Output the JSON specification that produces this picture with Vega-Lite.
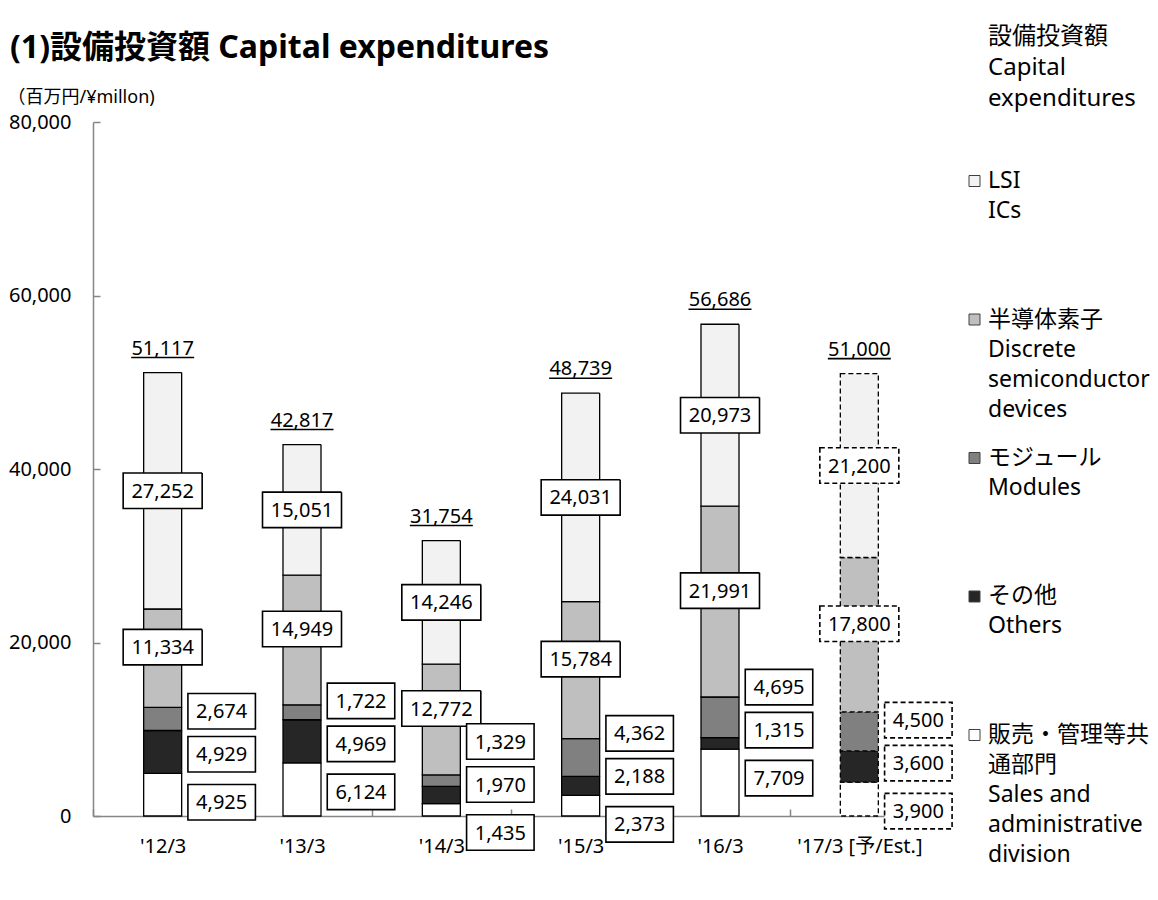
{
  "$schema": "https://vega.github.io/schema/vega-lite/v6.json",
  "autosize": {"type": "pad"},
  "padding": {"left": 7, "top": 25, "right": 0, "bottom": 20},
  "background": "white",
  "bounds": "flush",
  "spacing": 35.5,
  "config": {"font": "Noto Sans, Noto Sans CJK JP", "view": {"stroke": null}, "axisY": {"labelExpr": "format(datum.value, ',')"}},
  "datasets": {
    "capex": [
      {"year": "'12/3", "series": "sales", "amount": 4925},
      {"year": "'12/3", "series": "others", "amount": 4929},
      {"year": "'12/3", "series": "modules", "amount": 2674},
      {"year": "'12/3", "series": "discrete", "amount": 11334},
      {"year": "'12/3", "series": "lsi", "amount": 27252},
      {"year": "'13/3", "series": "sales", "amount": 6124},
      {"year": "'13/3", "series": "others", "amount": 4969},
      {"year": "'13/3", "series": "modules", "amount": 1722},
      {"year": "'13/3", "series": "discrete", "amount": 14949},
      {"year": "'13/3", "series": "lsi", "amount": 15051},
      {"year": "'14/3", "series": "sales", "amount": 1435},
      {"year": "'14/3", "series": "others", "amount": 1970},
      {"year": "'14/3", "series": "modules", "amount": 1329},
      {"year": "'14/3", "series": "discrete", "amount": 12772},
      {"year": "'14/3", "series": "lsi", "amount": 14246},
      {"year": "'15/3", "series": "sales", "amount": 2373},
      {"year": "'15/3", "series": "others", "amount": 2188},
      {"year": "'15/3", "series": "modules", "amount": 4362},
      {"year": "'15/3", "series": "discrete", "amount": 15784},
      {"year": "'15/3", "series": "lsi", "amount": 24031},
      {"year": "'16/3", "series": "sales", "amount": 7709},
      {"year": "'16/3", "series": "others", "amount": 1315},
      {"year": "'16/3", "series": "modules", "amount": 4695},
      {"year": "'16/3", "series": "discrete", "amount": 21991},
      {"year": "'16/3", "series": "lsi", "amount": 20973},
      {"year": "'17/3 [予/Est.]", "series": "sales", "amount": 3900},
      {"year": "'17/3 [予/Est.]", "series": "others", "amount": 3600},
      {"year": "'17/3 [予/Est.]", "series": "modules", "amount": 4500},
      {"year": "'17/3 [予/Est.]", "series": "discrete", "amount": 17800},
      {"year": "'17/3 [予/Est.]", "series": "lsi", "amount": 21200}
    ],
    "totals": [
      {"year": "'12/3", "total": 51117},
      {"year": "'13/3", "total": 42817},
      {"year": "'14/3", "total": 31754},
      {"year": "'15/3", "total": 48739},
      {"year": "'16/3", "total": 56686},
      {"year": "'17/3 [予/Est.]", "total": 51000}
    ],
    "legend": [
      {"series": "lsi", "label": "LSI\nICs"},
      {"series": "discrete", "label": "半導体素子\nDiscrete\nsemiconductor\ndevices"},
      {"series": "modules", "label": "モジュール\nModules"},
      {"series": "others", "label": "その他\nOthers"},
      {"series": "sales", "label": "販売・管理等共\n通部門\nSales and\nadministrative\ndivision"}
    ]
  },
  "resolve": {"scale": {"x": "independent", "y": "independent"}},
  "hconcat": [
    {
      "width": 836,
      "height": 694,
      "title": {"text": "(1)設備投資額 Capital expenditures", "anchor": "start", "frame": "group", "fontSize": 32, "fontWeight": "bold", "color": "black", "dx": -83, "offset": 23},
      "encoding": {
        "x": {
          "field": "year", "type": "nominal", "sort": null,
          "scale": {"paddingInner": 0, "paddingOuter": 0},
          "axis": {"title": null, "labelAngle": 0, "labelFontSize": 20, "labelColor": "black", "domainColor": "#868686", "domainWidth": 1.5, "tickColor": "#868686", "tickWidth": 1.5, "tickSize": -7, "tickBand": "extent", "labelPadding": 27.5}
        }
      },
      "layer": [
        {
          "data": {"name": "capex"},
          "transform": [
            {"stack": "amount", "groupby": ["year"], "as": ["y0", "y1"]},
            {"joinaggregate": [{"op": "min", "field": "y1", "as": "base"}], "groupby": ["year"]}
          ],
          "layer": [
            {
              "mark": {"type": "bar", "width": 38, "stroke": "black", "strokeWidth": 1.3},
              "encoding": {
                "y": {"field": "y1", "type": "quantitative", "scale": {"domain": [0, 80000], "nice": false},
                  "axis": {"title": "（百万円/¥millon)", "titleAngle": 0, "titleAlign": "left", "titleBaseline": "middle", "titleX": -86, "titleY": -25, "titleFontSize": 18, "titleFontWeight": "normal", "titleColor": "black", "values": [0, 20000, 40000, 60000, 80000], "format": ",", "labelExpr": "format(datum.value, ',')", "labelFontSize": 20, "labelColor": "black", "domainColor": "#868686", "domainWidth": 1.5, "tickColor": "#868686", "tickWidth": 1.5, "tickSize": -7, "labelPadding": 29, "grid": false}},
                "y2": {"field": "y0"},
                "fill": {"field": "series", "type": "nominal", "scale": {"domain": ["lsi", "discrete", "modules", "others", "sales"], "range": ["#f2f2f2", "#bfbfbf", "#808080", "#262626", "#ffffff"]}, "legend": null},
                "strokeDash": {"condition": {"test": "indexof(datum.year, '17/3') >= 0", "value": [5, 3]}, "value": [1, 0]}
              }
            },
            {
              "transform": [
                {"filter": {"field": "series", "oneOf": ["lsi", "discrete"]}},
                {"fold": ["y0", "y1"], "as": ["edge", "pos"]},
                {"aggregate": [{"op": "mean", "field": "pos", "as": "mid"}], "groupby": ["year", "series", "amount"]}
              ],
              "layer": [
                {
                  "transform": [{"filter": "datum.series === 'lsi'"}],
                  "mark": {"type": "point", "shape": "M-1,-0.449H1V0.449H-1Z", "size": 6241, "filled": true, "fill": "white", "stroke": "black", "strokeWidth": 1.6, "opacity": 1},
                  "encoding": {
                    "y": {"field": "mid", "type": "quantitative", "scale": {"domain": [0, 80000], "nice": false}},
                    "strokeDash": {"condition": {"test": "indexof(datum.year, '17/3') >= 0", "value": [5, 3]}, "value": [1, 0]}
                  }
                },
                {
                  "transform": [{"filter": "datum.series === 'lsi'"}],
                  "mark": {"type": "text", "fontSize": 20, "align": "center", "baseline": "middle", "color": "black", "yOffset": 1},
                  "encoding": {
                    "y": {"field": "mid", "type": "quantitative", "scale": {"domain": [0, 80000], "nice": false}},
                    "text": {"field": "amount", "type": "quantitative", "format": ","}
                  }
                },
                {
                  "transform": [{"filter": "datum.series === 'discrete'"}],
                  "mark": {"type": "point", "shape": "M-1,-0.449H1V0.449H-1Z", "size": 6241, "filled": true, "fill": "white", "stroke": "black", "strokeWidth": 1.6, "opacity": 1, "yOffset": -11},
                  "encoding": {
                    "y": {"field": "mid", "type": "quantitative", "scale": {"domain": [0, 80000], "nice": false}},
                    "strokeDash": {"condition": {"test": "indexof(datum.year, '17/3') >= 0", "value": [5, 3]}, "value": [1, 0]}
                  }
                },
                {
                  "transform": [{"filter": "datum.series === 'discrete'"}],
                  "mark": {"type": "text", "fontSize": 20, "align": "center", "baseline": "middle", "color": "black", "yOffset": -10},
                  "encoding": {
                    "y": {"field": "mid", "type": "quantitative", "scale": {"domain": [0, 80000], "nice": false}},
                    "text": {"field": "amount", "type": "quantitative", "format": ","}
                  }
                }
              ]
            },
            {
              "transform": [{"filter": "datum.series === 'modules'"}],
              "layer": [
                {
                  "mark": {"type": "point", "shape": "M-1,-0.526H1V0.526H-1Z", "size": 4556, "filled": true, "fill": "white", "stroke": "black", "strokeWidth": 1.6, "opacity": 1, "xOffset": 59, "yOffset": -62},
                  "encoding": {
                    "y": {"field": "base", "type": "quantitative", "scale": {"domain": [0, 80000], "nice": false}},
                    "strokeDash": {"condition": {"test": "indexof(datum.year, '17/3') >= 0", "value": [5, 3]}, "value": [1, 0]}
                  }
                },
                {
                  "mark": {"type": "text", "fontSize": 20, "align": "center", "baseline": "middle", "color": "black", "xOffset": 59, "yOffset": -61},
                  "encoding": {
                    "y": {"field": "base", "type": "quantitative", "scale": {"domain": [0, 80000], "nice": false}},
                    "text": {"field": "amount", "type": "quantitative", "format": ","}
                  }
                }
              ]
            },
            {
              "transform": [{"filter": "datum.series === 'others'"}],
              "layer": [
                {
                  "mark": {"type": "point", "shape": "M-1,-0.526H1V0.526H-1Z", "size": 4556, "filled": true, "fill": "white", "stroke": "black", "strokeWidth": 1.6, "opacity": 1, "xOffset": 59, "yOffset": -19},
                  "encoding": {
                    "y": {"field": "base", "type": "quantitative", "scale": {"domain": [0, 80000], "nice": false}},
                    "strokeDash": {"condition": {"test": "indexof(datum.year, '17/3') >= 0", "value": [5, 3]}, "value": [1, 0]}
                  }
                },
                {
                  "mark": {"type": "text", "fontSize": 20, "align": "center", "baseline": "middle", "color": "black", "xOffset": 59, "yOffset": -18},
                  "encoding": {
                    "y": {"field": "base", "type": "quantitative", "scale": {"domain": [0, 80000], "nice": false}},
                    "text": {"field": "amount", "type": "quantitative", "format": ","}
                  }
                }
              ]
            },
            {
              "transform": [{"filter": "datum.series === 'sales'"}],
              "layer": [
                {
                  "mark": {"type": "point", "shape": "M-1,-0.526H1V0.526H-1Z", "size": 4556, "filled": true, "fill": "white", "stroke": "black", "strokeWidth": 1.6, "opacity": 1, "xOffset": 59, "yOffset": 29},
                  "encoding": {
                    "y": {"field": "base", "type": "quantitative", "scale": {"domain": [0, 80000], "nice": false}},
                    "strokeDash": {"condition": {"test": "indexof(datum.year, '17/3') >= 0", "value": [5, 3]}, "value": [1, 0]}
                  }
                },
                {
                  "mark": {"type": "text", "fontSize": 20, "align": "center", "baseline": "middle", "color": "black", "xOffset": 59, "yOffset": 30},
                  "encoding": {
                    "y": {"field": "base", "type": "quantitative", "scale": {"domain": [0, 80000], "nice": false}},
                    "text": {"field": "amount", "type": "quantitative", "format": ","}
                  }
                }
              ]
            }
          ]
        },
        {
          "data": {"name": "totals"},
          "layer": [
            {
              "mark": {"type": "text", "fontSize": 20, "align": "center", "baseline": "middle", "color": "black", "yOffset": -24},
              "encoding": {
                "y": {"field": "total", "type": "quantitative", "scale": {"domain": [0, 80000], "nice": false}},
                "text": {"field": "total", "type": "quantitative", "format": ","}
              }
            },
            {
              "mark": {"type": "point", "shape": "M-1,0H1", "size": 3969, "filled": false, "stroke": "black", "strokeWidth": 1.6, "opacity": 1, "yOffset": -15},
              "encoding": {
                "y": {"field": "total", "type": "quantitative", "scale": {"domain": [0, 80000], "nice": false}}
              }
            }
          ]
        }
      ]
    },
    {
      "width": 20,
      "height": 672,
      "data": {"name": "legend"},
      "title": {"text": ["設備投資額", "Capital", "expenditures"], "anchor": "start", "frame": "group", "fontSize": 24, "fontWeight": "normal", "lineHeight": 31, "color": "black", "dx": 23.5, "offset": 11},
      "encoding": {
        "y": {"field": "series", "type": "nominal", "sort": null, "scale": {"type": "point", "padding": 0.426}, "axis": null}
      },
      "layer": [
        {
          "mark": {"type": "point", "shape": "square", "size": 121, "filled": true, "stroke": "#404040", "strokeWidth": 1, "opacity": 1},
          "encoding": {
            "fill": {"field": "series", "type": "nominal", "scale": {"domain": ["lsi", "discrete", "modules", "others", "sales"], "range": ["#f2f2f2", "#bfbfbf", "#808080", "#262626", "#ffffff"]}, "legend": null}
          }
        },
        {
          "mark": {"type": "text", "align": "left", "baseline": "middle", "dx": 13.5, "fontSize": 23, "lineBreak": "\n", "lineHeight": 30, "color": "black"},
          "encoding": {"text": {"field": "label", "type": "nominal"}}
        }
      ]
    }
  ]
}
